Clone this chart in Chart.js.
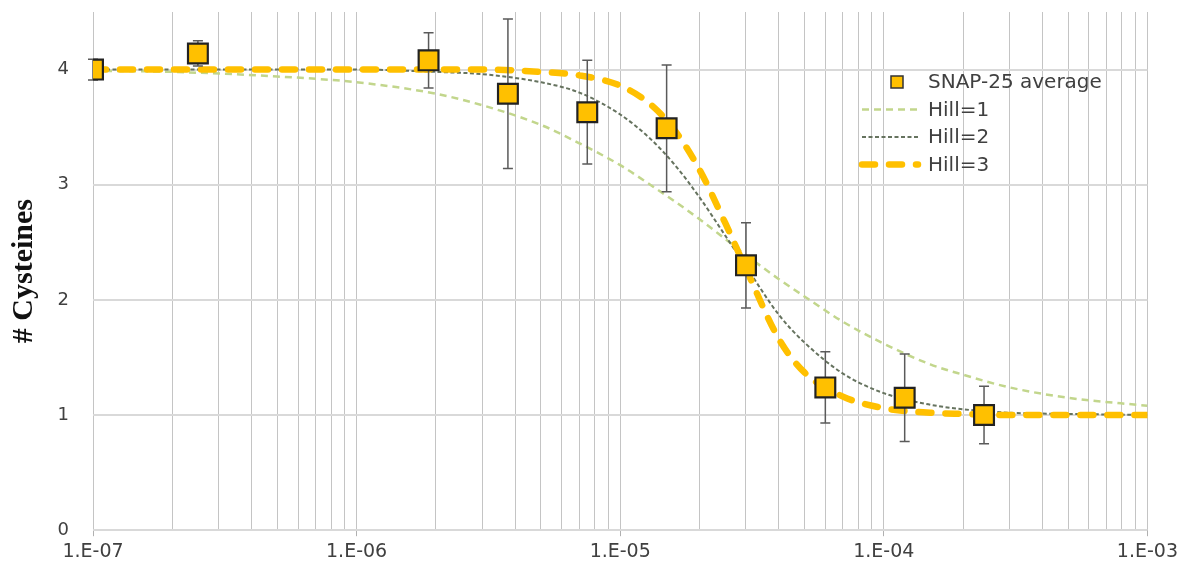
<!DOCTYPE html>
<html lang="en">
<head>
<meta charset="UTF-8" />
<title>SNAP-25 cysteines</title>
<script src="https://cdn.jsdelivr.net/npm/chart.js"></script>
<style>
  html, body { margin: 0; padding: 0; background: #fff; }
  #wrap { width: 1182px; height: 571px; position: relative; }
</style>
</head>
<body>
<div id="wrap"><canvas id="chart" width="1182" height="571"></canvas></div>
<script>
  // measured SNAP-25 averages
  const concentrations = [1.0e-7, 2.5e-7, 1.875e-6, 3.75e-6, 7.5e-6, 1.5e-5, 3.0e-5, 6.0e-5, 1.2e-4, 2.4e-4];
  const snapAverage = [4.00, 4.14, 4.08, 3.79, 3.63, 3.49, 2.30, 1.24, 1.15, 1.00];
  const snapError = [0.09, 0.11, 0.24, 0.65, 0.45, 0.55, 0.37, 0.31, 0.38, 0.25];

  // fitted curves, values
  const curveX = [1e-7, 2e-7, 5e-7, 1e-6, 2e-6, 3e-6, 5e-6, 7e-6, 1e-5, 1.3e-5, 1.6e-5, 2e-5, 2.5e-5, 3e-5, 4e-5, 5e-5, 7e-5, 1e-4, 1.5e-4, 2e-4, 3e-4, 5e-4, 1e-3];
  const hill1 = [3.99, 3.98, 3.94, 3.89, 3.79, 3.69, 3.52, 3.36, 3.17, 3.00, 2.86, 2.70, 2.53, 2.39, 2.18, 2.03, 1.81, 1.62, 1.44, 1.35, 1.24, 1.15, 1.08];
  const hill2 = [4.00, 4.00, 4.00, 4.00, 3.98, 3.96, 3.89, 3.80, 3.61, 3.40, 3.18, 2.89, 2.56, 2.29, 1.87, 1.63, 1.36, 1.19, 1.09, 1.05, 1.02, 1.01, 1.00];
  const hill3 = [4.00, 4.00, 4.00, 4.00, 4.00, 4.00, 3.98, 3.95, 3.86, 3.70, 3.48, 3.13, 2.67, 2.27, 1.66, 1.37, 1.16, 1.06, 1.02, 1.01, 1.00, 1.00, 1.00];

  const yTicks = [0, 1, 2, 3, 4];
  const decadeExps = [-7, -6, -5, -4, -3];

  const xTickValues = [];
  decadeExps.forEach(e => {
    for (let m = 1; m <= 9; m++) {
      if (e === -3 && m > 1) break;
      xTickValues.push(Number(m + 'e' + e));
    }
  });
  const isDecade = v => Math.abs(Math.log10(v) - Math.round(Math.log10(v))) < 1e-9;
  const fmtExp = v => {
    const e = Math.round(Math.log10(v));
    return '1.E' + (e < 0 ? '-' : '+') + String(Math.abs(e)).padStart(2, '0');
  };

  const gold = '#ffc000';
  const textColor = '#404040';

  const errorBars = {
    id: 'errorBars',
    beforeDatasetDraw(chart, args) {
      if (args.index !== 0) return;
      const { ctx, scales: { x, y } } = chart;
      ctx.save();
      ctx.strokeStyle = '#5a5a5a';
      ctx.lineWidth = 1.5;
      concentrations.forEach((c, i) => {
        const px = x.getPixelForValue(c);
        const top = y.getPixelForValue(snapAverage[i] + snapError[i]);
        const bot = y.getPixelForValue(snapAverage[i] - snapError[i]);
        ctx.beginPath();
        ctx.moveTo(px, top); ctx.lineTo(px, bot);
        ctx.moveTo(px - 5, top); ctx.lineTo(px + 5, top);
        ctx.moveTo(px - 5, bot); ctx.lineTo(px + 5, bot);
        ctx.stroke();
      });
      ctx.restore();
    }
  };

  // legend drawn inside the plot, upper right
  const insideLegend = {
    id: 'insideLegend',
    afterDraw(chart) {
      const ctx = chart.ctx;
      const ds = chart.data.datasets;
      const lx = 862, tx = 928, y0 = 82, step = 27.5;
      ctx.save();
      ctx.font = '20px "DejaVu Sans"';
      ctx.textBaseline = 'middle';
      ds.forEach((d, i) => {
        const yy = y0 + i * step;
        if (i === 0) {
          ctx.fillStyle = gold;
          ctx.strokeStyle = '#333';
          ctx.lineWidth = 1.5;
          ctx.fillRect(891, yy - 6, 12, 12);
          ctx.strokeRect(891, yy - 6, 12, 12);
        } else {
          ctx.beginPath();
          ctx.setLineDash(d.borderDash);
          ctx.lineCap = d.borderCapStyle || 'butt';
          ctx.strokeStyle = d.borderColor;
          ctx.lineWidth = d.borderWidth;
          ctx.moveTo(lx, yy); ctx.lineTo(918, yy);
          ctx.stroke();
          ctx.setLineDash([]);
        }
        ctx.fillStyle = textColor;
        ctx.fillText(d.label, tx, yy + 1);
      });
      ctx.restore();
    }
  };

  const curve = (label, ys, color, width, dash, order, cap) => ({
    type: 'line',
    label,
    data: curveX.map((x, i) => ({ x, y: ys[i] })),
    borderColor: color,
    borderWidth: width,
    borderDash: dash,
    borderCapStyle: cap || 'butt',
    pointRadius: 0,
    fill: false,
    cubicInterpolationMode: 'monotone',
    order
  });

  new Chart(document.getElementById('chart'), {
    type: 'scatter',
    data: {
      datasets: [
        {
          label: 'SNAP-25 average',
          data: concentrations.map((x, i) => ({ x, y: snapAverage[i] })),
          pointStyle: 'rect',
          pointRadius: 14,
          pointHoverRadius: 14,
          backgroundColor: gold,
          borderColor: '#222',
          borderWidth: 2.2,
          order: 0
        },
        curve('Hill=1', hill1, '#c2d68c', 2.5, [7, 5], 3),
        curve('Hill=2', hill2, '#66735f', 2, [4, 2.5], 2),
        curve('Hill=3', hill3, gold, 6.5, [13, 14], 1, 'round')
      ]
    },
    options: {
      responsive: false,
      animation: false,
      layout: { autoPadding: false, padding: { top: 12, right: 0, bottom: 4, left: 0 } },
      plugins: { legend: { display: false }, tooltip: { enabled: false } },
      scales: {
        x: {
          type: 'logarithmic',
          min: 1e-7,
          max: 1e-3,
          afterBuildTicks: s => { s.ticks = xTickValues.map(v => ({ value: v, major: isDecade(v) })); },
          ticks: {
            autoSkip: false,
            maxRotation: 0,
            color: textColor,
            font: { family: '"DejaVu Sans"', size: 19 },
            padding: 4,
            callback: v => isDecade(v) ? fmtExp(v) : ''
          },
          grid: {
            color: '#c4c4c4',
            lineWidth: 1,
            tickLength: 6,
            tickColor: c => (c.tick && isDecade(c.tick.value)) ? '#b0b0b0' : 'rgba(0,0,0,0)'
          },
          border: { display: false }
        },
        y: {
          min: 0,
          max: 4.5,
          afterBuildTicks: s => { s.ticks = yTicks.map(v => ({ value: v })); },
          afterFit: s => { s.width = 93; s.paddingTop = 0; s.paddingBottom = 0; },
          ticks: {
            autoSkip: false,
            color: textColor,
            font: { family: '"DejaVu Sans"', size: 18 },
            padding: 24
          },
          grid: { color: '#d9d9d9', lineWidth: 2, drawTicks: false },
          border: { display: false },
          title: {
            display: true,
            text: '# Cysteines',
            color: '#111',
            font: { family: '"Liberation Serif"', size: 30, weight: 'bold' },
            padding: { top: 6, bottom: 0 }
          }
        }
      }
    },
    plugins: [errorBars, insideLegend]
  });
</script>
</body>
</html>
